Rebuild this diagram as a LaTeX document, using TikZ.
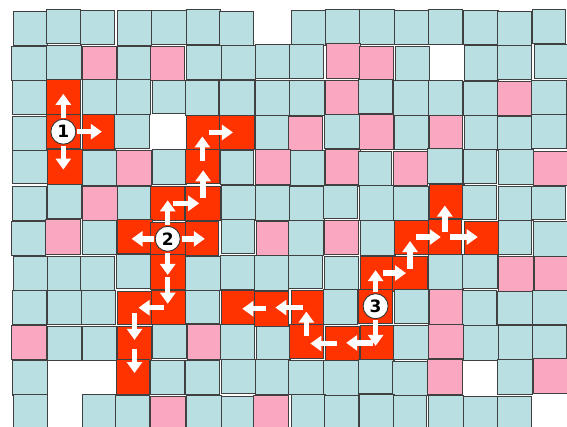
\documentclass[tikz,border=0pt]{standalone}
\usepackage{tikz}
\usepackage{fontspec}
\usetikzlibrary{arrows.meta}
\newfontfamily\numfont{DejaVu Sans}
\definecolor{cellblue}{RGB}{185,223,226}
\definecolor{cellpink}{RGB}{250,168,193}
\definecolor{cellred}{RGB}{255,51,0}

\begin{document}
\begin{tikzpicture}[x=34.7pt, y=35pt,
  cell/.style={draw=black!75, line width=0.8pt, inner sep=0pt, outer sep=0pt},
  B/.style={cell, fill=cellblue},
  P/.style={cell, fill=cellpink},
  R/.style={cell, fill=cellred},
  W/.style={inner sep=0pt, outer sep=0pt},
  num/.style={circle, draw=black!80, line width=0.9pt, fill=white, inner sep=0pt,
    minimum size=25pt, font=\numfont\bfseries\fontsize{17}{17}\selectfont},
  move/.style={white, line width=5.5pt, -{Triangle[width=15pt, length=11pt]},
    shorten <=5pt, shorten >=4pt},
  fromnum/.style={move, shorten <=1pt, shorten >=-3pt}]
  \useasboundingbox (-12pt,-417pt) rectangle (555pt,10pt);
  \fill[white] (-12pt,-417pt) rectangle (555pt,10pt);
  \pgfmathsetseed{31}
  \foreach \row [count=\r from 0] in {
    {B,B,B,B,B,B,B,W,B,B,B,B,B,B,B,B},
    {B,B,P,B,P,B,B,B,B,P,P,B,W,B,B,B},
    {B,R,B,B,B,B,B,B,B,P,B,B,B,B,P,B},
    {B,R,R,B,W,R,R,B,P,B,P,B,P,B,B,B},
    {B,R,B,P,B,R,B,P,B,P,B,P,B,B,B,P},
    {B,B,P,B,R,R,B,B,B,B,B,B,R,B,B,B},
    {B,P,B,R,R,R,B,P,B,P,B,R,R,R,B,B},
    {B,B,B,B,R,B,B,B,B,B,R,R,B,B,P,P},
    {B,B,B,R,R,B,R,R,R,B,R,B,P,B,B,B},
    {P,B,B,R,B,P,B,B,R,R,R,B,P,B,B,B},
    {B,W,W,R,B,B,B,B,B,B,B,B,P,W,B,P},
    {B,W,B,B,P,B,B,P,B,B,B,B,B,B,B,W}} {
    \foreach \k [count=\c from 0] in \row {
      \pgfmathsetmacro\dx{0.04*rand}
      \pgfmathsetmacro\dy{0.04*rand}
      \pgfmathsetmacro\sw{34.3+0.7*rand}
      \pgfmathsetmacro\sh{34.3+0.7*rand}
      \node[\k, minimum width=\sw pt, minimum height=\sh pt]
        (c-\c-\r) at (\c+0.5+\dx, -\r-0.5+\dy) {};
    }
  }

  \node[num] (n1) at (c-1-3) {1};
  \node[num] (n2) at (c-4-6) {2};
  \node[num] (n3) at (c-10-8) {3};

  \draw[fromnum] (n1) -- (n1 |- c-1-2.center);
  \draw[fromnum] (n1) -- (n1 -| c-2-3.center);
  \draw[fromnum] (n1) -- (n1 |- c-1-4.center);

  \draw[fromnum] (n2) -- (n2 |- c-4-5.center);
  \draw[move] (c-4-5.center) -- (c-4-5.center -| c-5-5.center);
  \draw[move] (c-5-5.center) -- (c-5-5.center |- c-5-4.center);
  \draw[move] (c-5-4.center) -- (c-5-4.center |- c-5-3.center);
  \draw[move] (c-5-3.center) -- (c-5-3.center -| c-6-3.center);
  \draw[fromnum] (n2) -- (n2 -| c-3-6.center);
  \draw[fromnum] (n2) -- (n2 -| c-5-6.center);
  \draw[fromnum] (n2) -- (n2 |- c-4-7.center);
  \draw[move] (c-4-7.center) -- (c-4-7.center |- c-4-8.center);
  \draw[move] (c-4-8.center) -- (c-4-8.center -| c-3-8.center);
  \draw[move] (c-3-8.center) -- (c-3-8.center |- c-3-9.center);
  \draw[move] (c-3-9.center) -- (c-3-9.center |- c-3-10.center);

  \draw[fromnum] (n3) -- (n3 |- c-10-7.center);
  \draw[move] (c-10-7.center) -- (c-10-7.center -| c-11-7.center);
  \draw[move] (c-11-7.center) -- (c-11-7.center |- c-11-6.center);
  \draw[move] (c-11-6.center) -- (c-11-6.center -| c-12-6.center);
  \draw[move] (c-12-6.center) -- (c-12-6.center |- c-12-5.center);
  \draw[move] (c-12-6.center) -- (c-12-6.center -| c-13-6.center);
  \draw[fromnum] (n3) -- (n3 |- c-10-9.center);
  \draw[move] (c-10-9.center) -- (c-10-9.center -| c-9-9.center);
  \draw[move] (c-9-9.center) -- (c-9-9.center -| c-8-9.center);
  \draw[move] (c-8-9.center) -- (c-8-9.center |- c-8-8.center);
  \draw[move] (c-8-8.center) -- (c-8-8.center -| c-7-8.center);
  \draw[move] (c-7-8.center) -- (c-7-8.center -| c-6-8.center);
\end{tikzpicture}
\end{document}
